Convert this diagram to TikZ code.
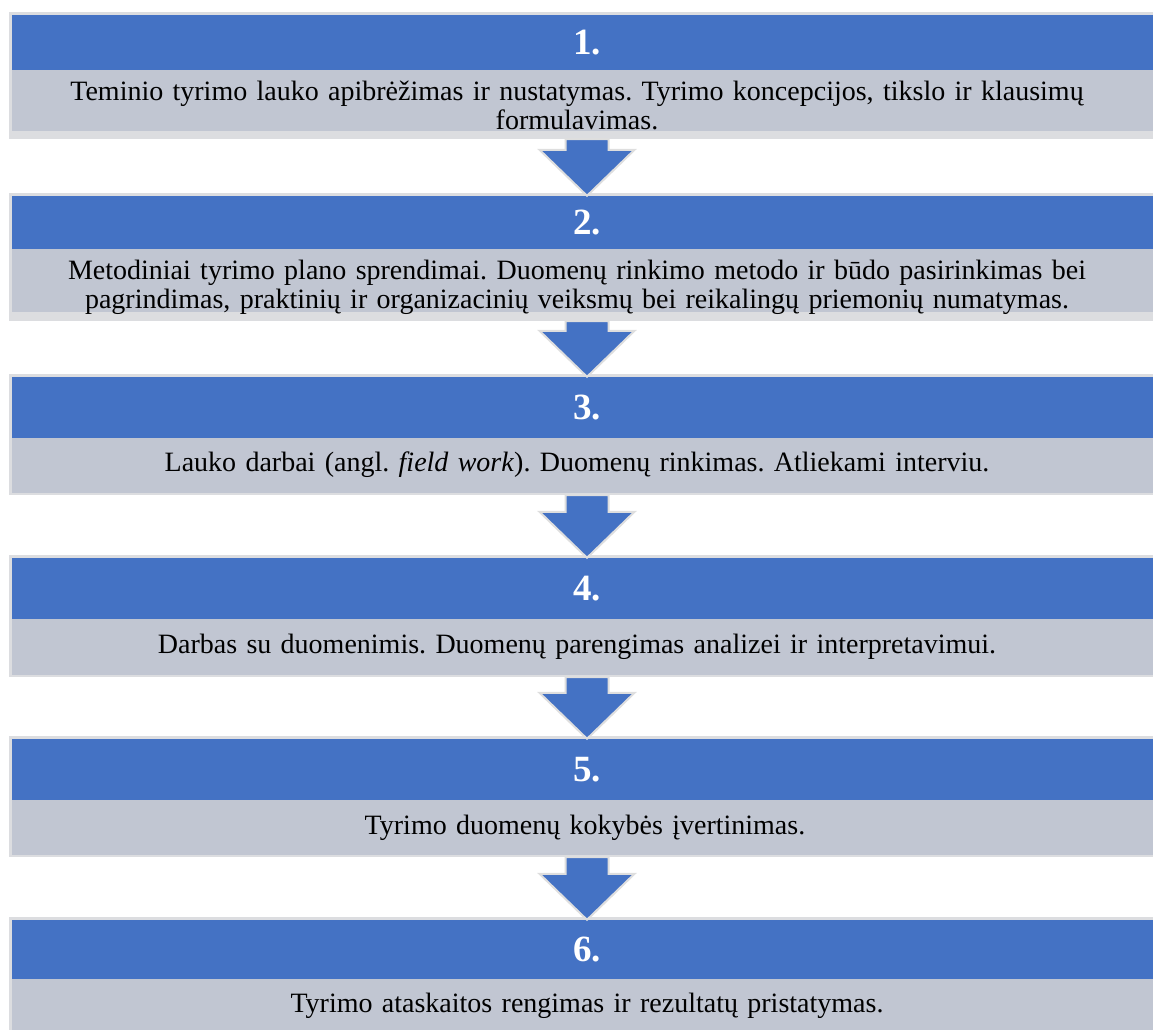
\documentclass[tikz,border=0pt]{standalone}
\usepackage{fontspec}
\setmainfont{Liberation Serif}
\usetikzlibrary{calc}

\definecolor{stageblue}{HTML}{4472C4}
\definecolor{stagegray}{HTML}{C1C6D2}
\definecolor{stageframe}{HTML}{DCDDE0}
\definecolor{arrowrim}{HTML}{DEDEDE}

\tikzset{
    headbox/.style={fill=stageblue, minimum width=1150, inner sep=0pt, text=white,
        font=\fontsize{37}{40}\selectfont\bfseries},
    bodytext/.style={text width=1140pt, align=center, inner sep=0pt,
        font=\fontsize{28}{29}\selectfont\frenchspacing},
    stagearrow/.style={fill=stageblue, draw=arrowrim, line width=2pt, line join=miter}
}

% block arrow from the foot of one stage to the head of the next
\newcommand{\stagearrow}[2]{%
    \draw[stagearrow] ($(#1)+(-21.5,0)$) -- ($(#2.north)+(-21.5,-46)$) -- ($(#2.north)+(-47.5,-46)$)
        -- (#2.north) -- ($(#2.north)+(47.5,-46)$) -- ($(#2.north)+(21.5,-46)$) -- ($(#1)+(21.5,0)$) -- cycle;
}

\begin{document}
\begin{tikzpicture}[x=1pt, y=-1pt]
    \useasboundingbox (0,0) rectangle (1153,1029);
    \clip (0,0) rectangle (1153,1029);

    % Stage 1
    \fill[stageframe] (9,12) rectangle (1165,139);
    \fill[stagegray] (12,70) rectangle (1162,131);
    \node[headbox, minimum height=55] (head1) at (587,42.5) {1.};
    \node[bodytext] (body1) at (577,105) {Teminio tyrimo lauko apibrėžimas ir nustatymas. Tyrimo koncepcijos, tikslo ir klausimų\\ formulavimas.};
    \coordinate (foot1) at (587,139);

    % Stage 2
    \fill[stageframe] (9,193) rectangle (1165,321);
    \fill[stagegray] (12,249) rectangle (1162,312);
    \node[headbox, minimum height=53] (head2) at (587,222.5) {2.};
    \node[bodytext] (body2) at (577,287) {Metodiniai tyrimo plano sprendimai. Duomenų rinkimo metodo ir būdo pasirinkimas bei\\ pagrindimas, praktinių ir organizacinių veiksmų bei reikalingų priemonių numatymas.};
    \coordinate (foot2) at (587,321);

    % Stage 3
    \fill[stageframe] (9,374) rectangle (1165,495);
    \fill[stagegray] (12,438) rectangle (1162,493);
    \node[headbox, minimum height=61] (head3) at (587,407.5) {3.};
    \node[bodytext] (body3) at (577,465) {Lauko darbai (angl. \textit{field work}). Duomenų rinkimas. Atliekami interviu.};
    \coordinate (foot3) at (587,495);

    % Stage 4
    \fill[stageframe] (9,555) rectangle (1165,677);
    \fill[stagegray] (12,619) rectangle (1162,675);
    \node[headbox, minimum height=61] (head4) at (587,588.5) {4.};
    \node[bodytext] (body4) at (577,647) {Darbas su duomenimis. Duomenų parengimas analizei ir interpretavimui.};
    \coordinate (foot4) at (587,677);

    % Stage 5
    \fill[stageframe] (9,736) rectangle (1165,857);
    \fill[stagegray] (12,800) rectangle (1162,855);
    \node[headbox, minimum height=61] (head5) at (587,769.5) {5.};
    \node[bodytext] (body5) at (585,828) {Tyrimo duomenų kokybės įvertinimas.};
    \coordinate (foot5) at (587,857);

    % Stage 6
    \fill[stageframe] (9,917) rectangle (1165,1035);
    \fill[stagegray] (12,979) rectangle (1162,1035);
    \node[headbox, minimum height=59] (head6) at (587,949.5) {6.};
    \node[bodytext] (body6) at (587,1006) {Tyrimo ataskaitos rengimas ir rezultatų pristatymas.};

    % arrows between the stages
    \foreach \a/\b in {1/2, 2/3, 3/4, 4/5, 5/6} {
        \stagearrow{foot\a}{head\b}
    }
\end{tikzpicture}
\end{document}
